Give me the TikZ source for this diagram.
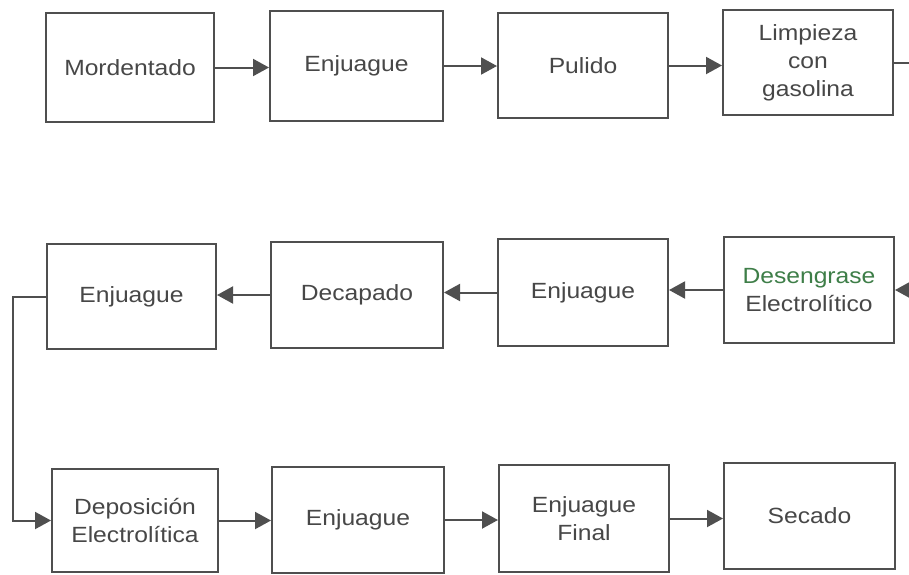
\documentclass[tikz,border=0pt]{standalone}
\usepackage{fontspec}
\setmainfont{Liberation Sans}[FakeStretch=1.12]
\usetikzlibrary{arrows.meta}
\definecolor{linegray}{HTML}{4F4F4F}
\definecolor{textgray}{HTML}{474747}
\definecolor{greentxt}{HTML}{3E7E48}
\tikzset{
  stepbox/.style={draw=linegray, line width=2pt, fill=white, inner sep=0pt,
    align=center, text=textgray, font=\fontsize{22}{28}\selectfont},
  conn/.style={draw=linegray, line width=2pt},
  arr/.style={conn, -{Triangle[length=16pt,width=17pt]}}
}
\begin{document}
\begin{tikzpicture}[x=1pt,y=-1pt]
\useasboundingbox (0,0) rectangle (909,574);
% row 1
\node[stepbox, minimum width=168pt, minimum height=109pt] (A) at (130,67.5) {Mordentado};
\node[stepbox, minimum width=173pt, minimum height=110pt] (B) at (356.5,66) {Enjuague};
\node[stepbox, minimum width=170pt, minimum height=105pt] (C) at (583,65.5) {Pulido};
\node[stepbox, minimum width=170pt, minimum height=105pt] (D) at (808,62.5) {Limpieza\\con\\gasolina};
% row 2
\node[stepbox, minimum width=170pt, minimum height=106pt] (E) at (809,290) {\textcolor{greentxt}{Desengrase}\\Electrolítico};
\node[stepbox, minimum width=170pt, minimum height=107pt] (F) at (583,292.5) {Enjuague};
\node[stepbox, minimum width=172pt, minimum height=106pt] (G) at (357,295) {Decapado};
\node[stepbox, minimum width=169pt, minimum height=105pt] (H) at (131.5,296.5) {Enjuague};
% row 3
\node[stepbox, minimum width=166pt, minimum height=103pt] (I) at (135,520.5) {Deposición\\Electrolítica};
\node[stepbox, minimum width=172pt, minimum height=106pt] (J) at (358,520) {Enjuague};
\node[stepbox, minimum width=170pt, minimum height=107pt] (K) at (584,518.5) {Enjuague\\Final};
\node[stepbox, minimum width=171pt, minimum height=106pt] (L) at (809.5,516) {Secado};
% edge coordinates
\coordinate (r1) at (909,62.5);
\coordinate (r2) at (909,290);
% connectors
\draw[arr] (A.east) -- (A.east -| B.west);
\draw[arr] (B.east) -- (B.east -| C.west);
\draw[arr] (C.east) -- (C.east -| D.west);
\draw[conn] (D.east) -- (r1);
\draw[arr] (r2) -- (E.east);
\draw[arr] (E.west) -- (E.west -| F.east);
\draw[arr] (F.west) -- (F.west -| G.east);
\draw[arr] (G.west) -- (G.west -| H.east);
\draw[arr] (H.west) -- ++(-33,0) |- (I.west);
\draw[arr] (I.east) -- (I.east -| J.west);
\draw[arr] (J.east) -- (J.east -| K.west);
\draw[arr] (K.east) -- (K.east -| L.west);
\end{tikzpicture}
\end{document}
